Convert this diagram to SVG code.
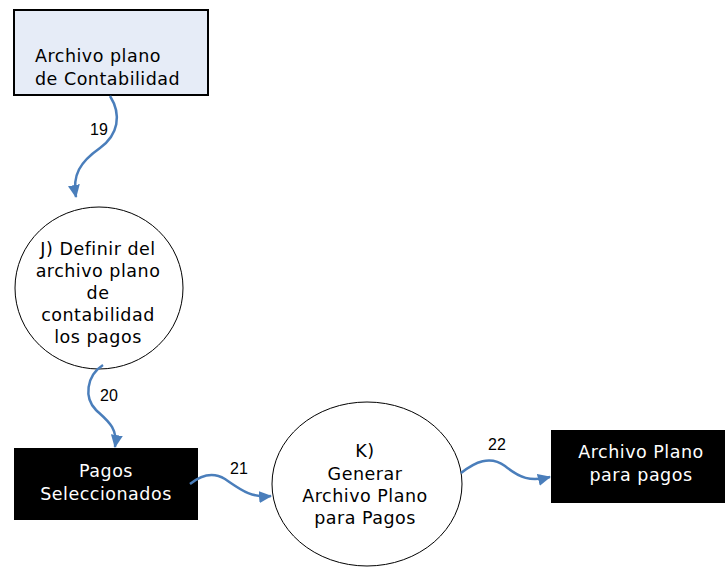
<svg xmlns="http://www.w3.org/2000/svg" width="725" height="567" viewBox="0 0 725 567">
<style>
.t{font-family:"DejaVu Sans",Verdana,sans-serif;font-size:17.5px;letter-spacing:0.5px;fill:#000}
.w{fill:#fff}
.c{text-anchor:middle}
.lbl{font-family:"Liberation Sans",Arial,sans-serif;font-size:16px;fill:#000}
.edge{fill:none;stroke:#4a7ebb;stroke-width:2.5}
</style>
<defs>
<marker id="ah" markerUnits="userSpaceOnUse" markerWidth="14" markerHeight="12" refX="12" refY="6" orient="auto">
<path d="M0,0 L13,6 L0,12 z" fill="#4a7ebb"/>
</marker>
</defs>
<rect width="725" height="567" fill="#fff"/>
<g id="archivo-contabilidad">
<rect x="14" y="10" width="194" height="85" fill="#e6ecf7" stroke="#000" stroke-width="2"/>
<text class="t" x="35" y="62">Archivo plano</text>
<text class="t" x="35" y="85">de Contabilidad</text>
</g>
<g id="proceso-j">
<ellipse cx="99" cy="288" rx="84" ry="81" fill="#fff" stroke="#000" stroke-width="1"/>
<text class="t c" x="98" y="255">J) Definir del</text>
<text class="t c" x="98" y="277">archivo plano</text>
<text class="t c" x="98" y="299">de</text>
<text class="t c" x="98" y="321">contabilidad</text>
<text class="t c" x="98" y="343">los pagos</text>
</g>
<g id="pagos-seleccionados">
<rect x="14" y="448" width="184" height="72" fill="#000"/>
<text class="t w c" x="106" y="477">Pagos</text>
<text class="t w c" x="106" y="500">Seleccionados</text>
</g>
<g id="proceso-k">
<ellipse cx="367" cy="484" rx="95" ry="82" fill="#fff" stroke="#000" stroke-width="1"/>
<text class="t c" x="365" y="457">K)</text>
<text class="t c" x="365" y="480">Generar</text>
<text class="t c" x="365" y="502">Archivo Plano</text>
<text class="t c" x="365" y="524">para Pagos</text>
</g>
<g id="archivo-plano-pagos">
<rect x="551" y="430" width="174" height="73" fill="#000"/>
<text class="t w c" x="641" y="458">Archivo Plano</text>
<text class="t w c" x="641" y="481">para pagos</text>
</g>
<g id="connectors">
<path class="edge" marker-end="url(#ah)" d="M110,96 C122,115 118,135 100,148 C80,162 72,175 76,197"/>
<path class="edge" marker-end="url(#ah)" d="M103,365 C86,376 84,398 96,410 C108,421 118,428 115,447"/>
<path class="edge" marker-end="url(#ah)" d="M190,484 C200,476 212,471 225,479 C240,489 250,498 271,496"/>
<path class="edge" marker-end="url(#ah)" d="M461,473 C475,462 490,455 505,466 C520,478 530,482 550,477"/>
<text class="lbl" x="90" y="135">19</text>
<text class="lbl" x="100" y="401">20</text>
<text class="lbl" x="230" y="474">21</text>
<text class="lbl" x="488" y="450">22</text>
</g>
</svg>
